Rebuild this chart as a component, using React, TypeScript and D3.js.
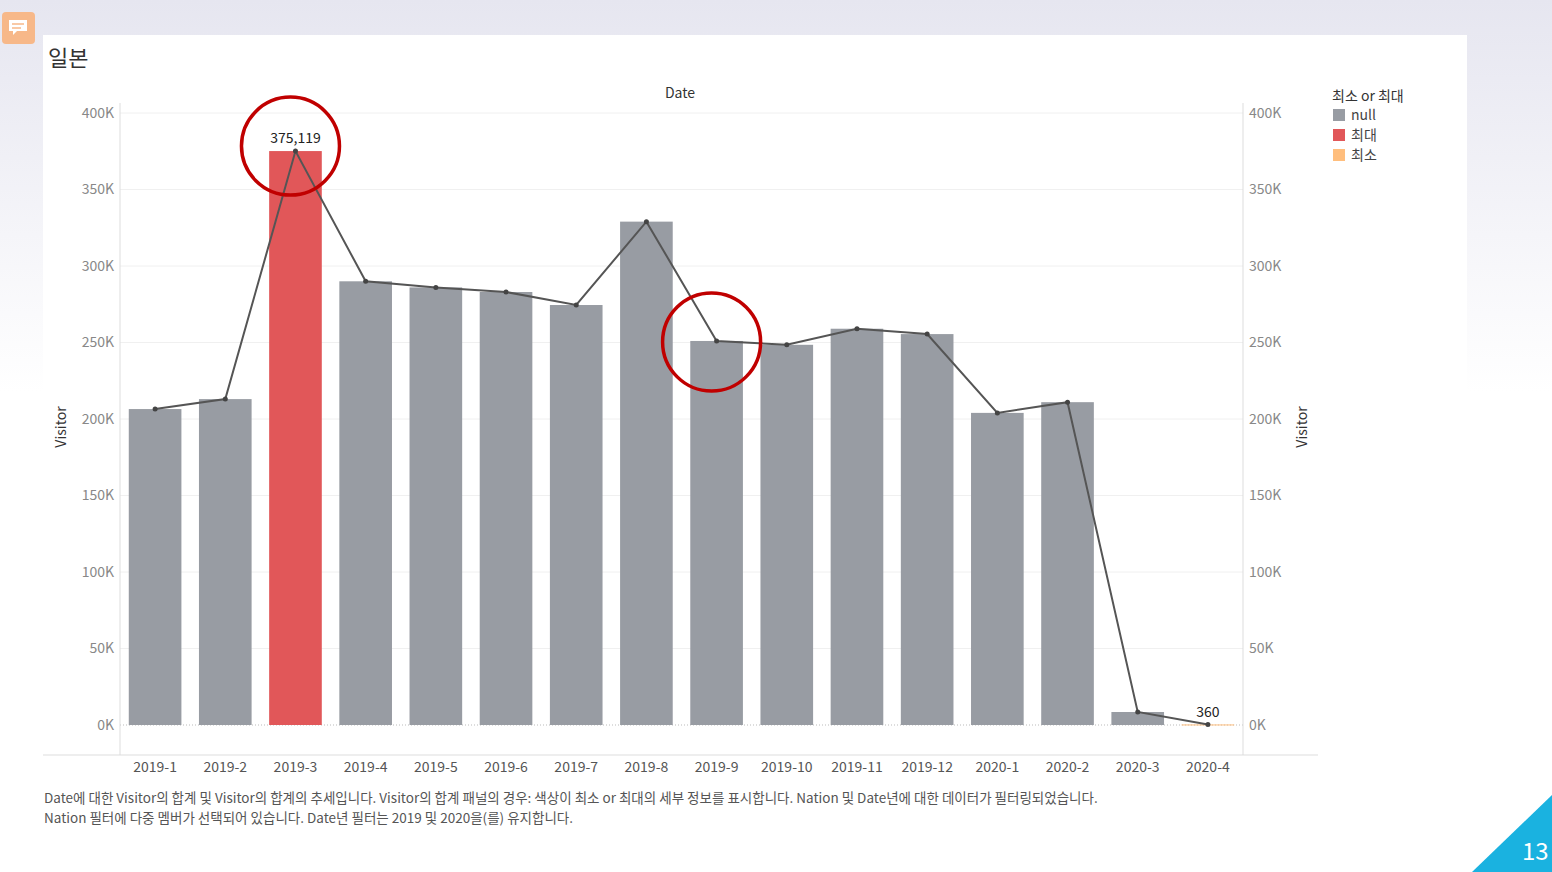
import { useEffect, useRef } from 'react';
import * as d3 from 'd3';

const months = ['2019-1', '2019-2', '2019-3', '2019-4', '2019-5', '2019-6', '2019-7', '2019-8', '2019-9', '2019-10', '2019-11', '2019-12', '2020-1', '2020-2', '2020-3', '2020-4'];
const visitors = [206500, 213000, 375119, 290000, 286000, 283000, 274500, 329000, 251000, 248500, 259000, 255500, 204000, 211000, 8500, 360];
const minMax = ['null', 'null', '최대', 'null', 'null', 'null', 'null', 'null', 'null', 'null', 'null', 'null', 'null', 'null', 'null', '최소'];
const legendLabels = ['null', '최대', '최소'];
const legendColors = ['#989ca3', '#e15759', '#ffbe7d'];
const yTicks = [0, 50000, 100000, 150000, 200000, 250000, 300000, 350000, 400000];
const circled = ['2019-3', '2019-9'];

const FONT = "'Noto Sans CJK KR', 'Open Sans', sans-serif";

export default function App() {
  const svgRef = useRef<SVGSVGElement>(null);

  useEffect(() => {
    const svg = d3.select(svgRef.current);
    svg.selectAll('*').remove();
    const W = 1552, H = 872;

    const defs = svg.append('defs');
    const grad = defs.append('linearGradient').attr('id', 'bg').attr('x1', 0).attr('y1', 0).attr('x2', 0).attr('y2', 1);
    grad.append('stop').attr('offset', '0%').attr('stop-color', '#e6e6f0');
    grad.append('stop').attr('offset', '45%').attr('stop-color', '#ffffff');
    svg.append('rect').attr('width', W).attr('height', H).attr('fill', 'url(#bg)');
    svg.append('rect').attr('x', 43).attr('y', 35).attr('width', 1424).attr('height', 810).attr('fill', '#fff');

    // comment icon
    svg.append('rect').attr('x', 2).attr('y', 12).attr('width', 33).attr('height', 32).attr('rx', 4).attr('fill', '#f7b889');
    svg.append('path').attr('d', 'M9 20h18v11h-10l-4 4v-4h-4z').attr('fill', '#fff');
    svg.append('path').attr('d', 'M12 24h12M12 28h9').attr('stroke', '#f7b889').attr('stroke-width', 1.5);

    // slide corner
    svg.append('path').attr('d', 'M1552 795 L1552 872 L1472 872 Z').attr('fill', '#1ab2e0');
    svg.append('text').attr('x', 1522).attr('y', 860).attr('fill', '#fff').attr('font-size', 24).attr('font-family', FONT).text('13');

    svg.append('text').attr('x', 48).attr('y', 66).attr('font-size', 22).attr('fill', '#333').attr('font-family', FONT).text('일본');

    const left = 120, right = 1243, top = 103, bottom = 755;
    const x = d3.scaleBand().domain(months).range([left, right]).paddingInner(0.25).paddingOuter(0.125);
    const y = d3.scaleLinear().domain([0, 400000]).range([725, 113]);
    const color = d3.scaleOrdinal<string, string>().domain(legendLabels).range(legendColors);
    const fmtK = (d: number) => `${d / 1000}K`;

    const g = svg.append('g').attr('font-family', FONT);

    // gridlines
    g.selectAll('.grid').data(yTicks.filter((d) => d > 0)).enter().append('line')
      .attr('x1', left).attr('x2', right).attr('y1', (d) => y(d)).attr('y2', (d) => y(d))
      .attr('stroke', '#f0f0f0');
    g.append('line').attr('x1', left).attr('x2', right).attr('y1', y(0)).attr('y2', y(0))
      .attr('stroke', '#bbb').attr('stroke-dasharray', '1,2');

    // axes frames
    g.append('line').attr('x1', left).attr('x2', left).attr('y1', top).attr('y2', bottom).attr('stroke', '#ddd');
    g.append('line').attr('x1', right).attr('x2', right).attr('y1', top).attr('y2', bottom).attr('stroke', '#ddd');
    g.append('line').attr('x1', 43).attr('x2', 1318).attr('y1', bottom).attr('y2', bottom).attr('stroke', '#ddd');

    const yl = g.append('g').attr('transform', `translate(${left},0)`).call(d3.axisLeft(y).tickValues(yTicks).tickFormat((d) => fmtK(+d)).tickSize(0).tickPadding(6));
    const yr = g.append('g').attr('transform', `translate(${right},0)`).call(d3.axisRight(y).tickValues(yTicks).tickFormat((d) => fmtK(+d)).tickSize(0).tickPadding(6));
    [yl, yr].forEach((a) => {
      a.select('.domain').remove();
      a.selectAll('text').attr('fill', '#888').attr('font-size', 14).attr('font-family', FONT);
    });
    const xa = g.append('g').attr('transform', `translate(0,${bottom})`).call(d3.axisBottom(x).tickSize(0).tickPadding(7));
    xa.select('.domain').remove();
    xa.selectAll('text').attr('fill', '#555').attr('font-size', 14).attr('font-family', FONT);

    g.append('text').attr('x', 680).attr('y', 98).attr('text-anchor', 'middle').attr('font-size', 14).attr('fill', '#333').text('Date');
    g.append('text').attr('transform', `translate(66,${y(200000) + 8}) rotate(-90)`).attr('text-anchor', 'middle').attr('font-size', 14).attr('fill', '#333').text('Visitor');
    g.append('text').attr('transform', `translate(1307,${y(200000) + 8}) rotate(-90)`).attr('text-anchor', 'middle').attr('font-size', 14).attr('fill', '#333').text('Visitor');

    // bars
    g.selectAll('.bar').data(months).enter().append('rect')
      .attr('x', (d) => x(d)!).attr('width', x.bandwidth())
      .attr('y', (_, i) => y(visitors[i])).attr('height', (_, i) => Math.max(1, y(0) - y(visitors[i])))
      .attr('fill', (_, i) => color(minMax[i]));

    // line
    const cx = (i: number) => x(months[i])! + x.bandwidth() / 2;
    g.append('path').datum(visitors)
      .attr('d', d3.line<number>().x((_, i) => cx(i)).y((d) => y(d)))
      .attr('fill', 'none').attr('stroke', '#555').attr('stroke-width', 2);
    g.selectAll('.pt').data(visitors).enter().append('circle')
      .attr('cx', (_, i) => cx(i)).attr('cy', (d) => y(d)).attr('r', 2.5).attr('fill', '#444');

    // labels
    [2, 15].forEach((i) => {
      g.append('text').attr('x', cx(i)).attr('y', y(visitors[i]) - (i === 2 ? 8 : 7)).attr('text-anchor', 'middle')
        .attr('font-size', 14).attr('fill', '#222').text(d3.format(',')(visitors[i]));
    });

    // annotation circles
    circled.forEach((m) => {
      const i = months.indexOf(m);
      g.append('circle').attr('cx', cx(i) - 5).attr('cy', y(visitors[i]) - (i === 2 ? 5 : -1)).attr('r', 49)
        .attr('fill', 'none').attr('stroke', '#c00000').attr('stroke-width', 3.5);
    });

    // legend
    const lg = g.append('g').attr('transform', 'translate(1332,100)');
    lg.append('text').attr('y', 1).attr('font-size', 14).attr('fill', '#333').text('최소 or 최대');
    legendLabels.forEach((l, i) => {
      lg.append('rect').attr('x', 1).attr('y', 9 + i * 20).attr('width', 12).attr('height', 12).attr('fill', legendColors[i]);
      lg.append('text').attr('x', 19).attr('y', 20 + i * 20).attr('font-size', 14).attr('fill', '#444').text(l);
    });

    // caption
    const cap = g.append('g').attr('font-size', 13.5).attr('fill', '#555');
    cap.append('text').attr('x', 44).attr('y', 803).text('Date에 대한 Visitor의 합계 및 Visitor의 합계의 추세입니다. Visitor의 합계 패널의 경우: 색상이 최소 or 최대의 세부 정보를 표시합니다. Nation 및 Date년에 대한 데이터가 필터링되었습니다.');
    cap.append('text').attr('x', 44).attr('y', 823).text('Nation 필터에 다중 멤버가 선택되어 있습니다. Date년 필터는 2019 및 2020을(를) 유지합니다.');
  }, []);

  return <svg ref={svgRef} width={1552} height={872} style={{ position: 'absolute', left: 0, top: 0 }} />;
}
